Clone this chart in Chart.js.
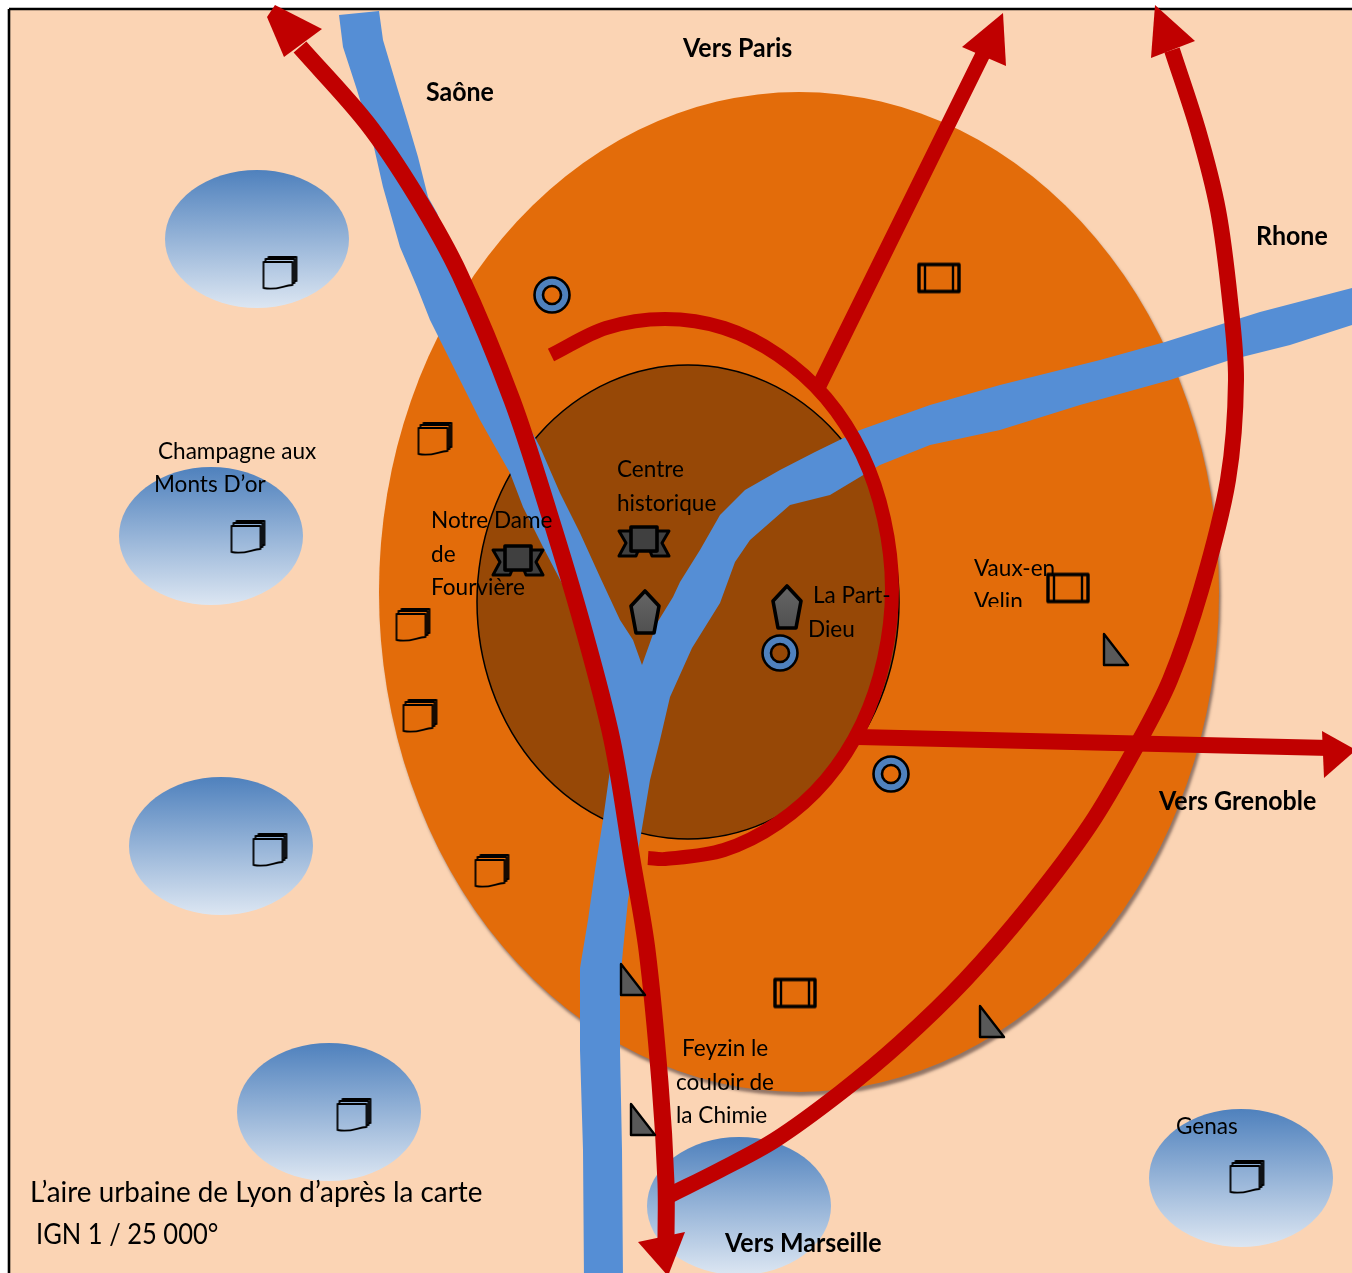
<!DOCTYPE html>
<html>
<head>
<meta charset="utf-8">
<title>Aire urbaine de Lyon</title>
<script src="https://cdn.jsdelivr.net/npm/chart.js@4"></script>
<style>
html, body { margin: 0; padding: 0; background: #fff; overflow: hidden; }
canvas { display: block; }
</style>
</head>
<body>
<canvas id="map" width="1352" height="1273"></canvas>
<script>
var frame = [[9,9],[1370,9],[1370,1290],[9,1290],[9,9]];

var agglomeration = [[799,592]];
var centre = [[688,602]];
var communes = [[257,239],[211,536],[221,846],[329,1112],[739,1206],[1241,1178]];

var riverOutline = [[339,15],[379,11],[383,40],[397,87],[408,123],[418,157],[428,197],[437,213],[452,255],[470,300],
  [490,350],[515,400],[540,447],[560,493],[580,533],[600,577],[620,620],[633,640],[642,665],[657,623],[673,597],
  [680,582],[700,550],[720,515],[745,490],[780,470],[815,452],[860,430],[930,405],[1000,385],[1100,360],[1165,342],
  [1260,312],[1352,288],[1352,325],[1290,345],[1230,360],[1170,380],[1080,405],[1000,430],[930,445],[880,465],
  [830,495],[790,505],[750,540],[735,562],[720,603],[692,648],[670,697],[660,740],[650,780],[640,840],[628,900],
  [623,950],[620,983],[620,1050],[622,1150],[623,1280],[584,1280],[583,1150],[580,1050],[580,968],[588,920],
  [595,870],[603,820],[610,770],[603,720],[590,650],[573,617],[567,593],[543,547],[523,507],[510,473],[493,443],
  [480,420],[470,400],[445,350],[430,320],[417,287],[400,247],[383,187],[373,143],[357,90],[343,47],[339,15]];

var roadWest = [[300,47],[367,123],[417,197],[460,275],[512,400],[549,513],[583,627],[612,740],[632,860],
  [647,950],[660,1083],[666,1183],[666,1240]];
var roadNorth = [[818,388],[985,50]];
var roadEast = [[1172,50],[1198,130],[1218,210],[1230,300],[1236,380],[1228,480],[1201,590],[1170,680],[1137,745],
  [1090,825],[1030,905],[965,980],[900,1043],[840,1093],[775,1140],[720,1170],[670,1195]];
var ringRoad = [[551,355],[606,328],[665,319],[724,328],[778,355],[826,398],[862,454],[884,519],[892,589],[884,659],
  [862,724],[826,780],[778,823],[724,850],[665,859],[648,858]];
var roadGrenoble = [[858,737],[1330,748]];

var headWest = [[267,17],[275,5],[322,29],[284,57],[267,17]];
var headNorth = [[1003,13],[962,47],[1006,66],[1003,13]];
var headEast = [[1155,5],[1195,41],[1151,58],[1155,5]];
var headSouth = [[638,1242],[685,1232],[668,1276],[638,1242]];
var headGrenoble = [[1322,731],[1356,750],[1324,778],[1322,731]];

var docMarkers = [[280,273],[248,537],[270,850],[354,1115],[1247,1177],[435,439],[413,625],[420,716],[492,871]];
var boxMarkers = [[939,278],[1068,588],[795,993]];
var ringMarkers = [[552,295],[780,653],[891,774]];
var pentagonMarkers = [[645,612],[787,607]];
var ribbonMarkers = [[518,561],[644,542]];
var triangleMarkers = [[1116,650],[633,980],[643,1120],[992,1022]];

var boldLabels = [['Vers Paris',683,57],['Saône',426,101],['Rhone',1256,245],['Vers Grenoble',1159,810],['Vers Marseille',725,1252]];
var plainLabels = [['Champagne aux',158,459],['Monts D’or',154,492],['Centre',617,477],['historique',617,511],
  ['Notre Dame',431,528],['de',431,562],['Fourvière',431,595],['La Part-',813,603],['Dieu',808,637],['Vaux-en',974,576],
  ['Feyzin le',682,1056],['couloir de',676,1090],['la Chimie',676,1123],['Genas',1176,1134]];
var clippedLabels = [['Velin',974,609,607]];
var captionLabels = [['L’aire urbaine de Lyon d’après la carte',30,1202]];
var captionScale = [['IGN 1 / 25 000°',36,1244]];

var FONT = 'Lato, Carlito, sans-serif';
var RED = '#C00000';

function toPoints(list) {
    return list.map(function(p) { return {x: p[0], y: p[1]}; });
}

// small offscreen canvas used as a pointStyle, so the scales still place it
function stamp(w, h, paint) {
    var c = document.createElement('canvas');
    c.width = w;
    c.height = h;
    paint(c.getContext('2d'), w, h);
    return c;
}

function ellipseStamp(rx, ry, paint) {
    return stamp(rx * 2 + 20, ry * 2 + 20, function(g, w, h) {
        g.beginPath();
        g.ellipse(w / 2, h / 2, rx, ry, 0, 0, Math.PI * 2);
        paint(g, w, h);
    });
}

var orangeStamp = ellipseStamp(420, 500, function(g) {
    g.shadowColor = 'rgba(60,40,40,0.55)';
    g.shadowOffsetX = 2;
    g.shadowOffsetY = 4;
    g.shadowBlur = 3;
    g.fillStyle = '#E36C0A';
    g.fill();
});

var brownStamp = ellipseStamp(211, 237, function(g) {
    g.fillStyle = '#974806';
    g.fill();
    g.lineWidth = 1.5;
    g.strokeStyle = '#000';
    g.stroke();
});

var communeStamp = ellipseStamp(92, 69, function(g, w, h) {
    var grad = g.createLinearGradient(0, h / 2 - 69, 0, h / 2 + 69);
    grad.addColorStop(0, '#4F81BD');
    grad.addColorStop(1, '#DCE6F2');
    g.fillStyle = grad;
    g.fill();
});

var docStamp = stamp(37, 36, function(g) {
    g.strokeStyle = '#000';
    g.lineWidth = 1.8;
    g.lineJoin = 'round';
    g.beginPath();
    g.moveTo(7, 4); g.lineTo(7, 2); g.lineTo(35, 2); g.lineTo(35, 26); g.lineTo(33, 26);
    g.moveTo(4, 7); g.lineTo(4, 4); g.lineTo(33, 4); g.lineTo(33, 28); g.lineTo(31, 28);
    g.stroke();
    g.beginPath();
    g.moveTo(2, 7); g.lineTo(31, 7); g.lineTo(31, 30);
    g.bezierCurveTo(22, 30, 16, 36, 2, 33);
    g.closePath();
    g.stroke();
});

var boxStamp = stamp(46, 33, function(g) {
    g.strokeStyle = '#000';
    g.lineWidth = 3.4;
    g.lineJoin = 'round';
    g.strokeRect(3, 3, 40, 27);
    g.lineWidth = 2.4;
    g.beginPath();
    g.moveTo(9, 3); g.lineTo(9, 30);
    g.moveTo(37, 3); g.lineTo(37, 30);
    g.stroke();
});

var ringStamp = stamp(40, 40, function(g) {
    g.beginPath();
    g.arc(20, 20, 17.5, 0, Math.PI * 2);
    g.moveTo(29, 20);
    g.arc(20, 20, 9, 0, Math.PI * 2);
    g.fillStyle = '#4F81BD';
    g.fill('evenodd');
    g.strokeStyle = '#000';
    g.lineWidth = 2.6;
    g.stroke();
});

var pentagonStamp = stamp(34, 48, function(g) {
    var grad = g.createLinearGradient(0, 2, 0, 46);
    grad.addColorStop(0, '#666');
    grad.addColorStop(1, '#505050');
    g.beginPath();
    g.moveTo(17, 3); g.lineTo(31, 18); g.lineTo(26, 45); g.lineTo(8, 45); g.lineTo(3, 18);
    g.closePath();
    g.fillStyle = grad;
    g.fill();
    g.lineWidth = 3.6;
    g.lineJoin = 'round';
    g.strokeStyle = '#000';
    g.stroke();
});

var ribbonStamp = stamp(56, 36, function(g) {
    g.fillStyle = '#404040';
    g.strokeStyle = '#000';
    g.lineWidth = 3;
    g.lineJoin = 'round';
    g.beginPath();
    g.moveTo(3, 7); g.lineTo(16, 7); g.lineTo(16, 27); g.lineTo(22, 27); g.lineTo(20, 32); g.lineTo(3, 32); g.lineTo(10, 19);
    g.closePath();
    g.moveTo(53, 7); g.lineTo(40, 7); g.lineTo(40, 27); g.lineTo(34, 27); g.lineTo(36, 32); g.lineTo(53, 32); g.lineTo(46, 19);
    g.closePath();
    g.fill();
    g.stroke();
    g.lineWidth = 3.6;
    g.beginPath();
    g.rect(15, 3, 26, 24);
    g.fill();
    g.stroke();
});

var triangleStamp = stamp(28, 36, function(g) {
    g.beginPath();
    g.moveTo(2, 2); g.lineTo(26, 33); g.lineTo(2, 33);
    g.closePath();
    g.fillStyle = '#595959';
    g.fill();
    g.lineWidth = 2.4;
    g.lineJoin = 'round';
    g.strokeStyle = '#000';
    g.stroke();
});

function areaSet(list, fillColor, borderColor, borderWidth) {
    return {
        data: toPoints(list), showLine: true, fill: 'shape', tension: 0,
        backgroundColor: fillColor, borderColor: borderColor || fillColor,
        borderWidth: borderWidth || 0, pointRadius: 0, clip: false
    };
}

function roadSet(list, width) {
    return {
        data: toPoints(list), showLine: true, fill: false, tension: 0.33,
        borderColor: RED, borderWidth: width, pointRadius: 0, clip: false
    };
}

function stampSet(list, style) {
    return {
        data: toPoints(list), showLine: false, pointStyle: style, pointRadius: 5,
        pointBorderWidth: 0, clip: false
    };
}

// painted back to front, reversed below because chart.js puts dataset 0 on top
var dataSets = [
    areaSet(frame, '#FBD4B4', '#000', 2.6),
    stampSet(agglomeration, orangeStamp),
    stampSet(centre, brownStamp),
    stampSet(communes, communeStamp),
    areaSet(riverOutline, '#558ED5'),
    roadSet(roadWest, 17),
    roadSet(roadNorth, 15),
    roadSet(roadEast, 16),
    roadSet(ringRoad, 14),
    roadSet(roadGrenoble, 16),
    areaSet(headWest, RED),
    areaSet(headNorth, RED),
    areaSet(headEast, RED),
    areaSet(headSouth, RED),
    areaSet(headGrenoble, RED),
    stampSet(docMarkers, docStamp),
    stampSet(boxMarkers, boxStamp),
    stampSet(ringMarkers, ringStamp),
    stampSet(pentagonMarkers, pentagonStamp),
    stampSet(ribbonMarkers, ribbonStamp),
    stampSet(triangleMarkers, triangleStamp)
].reverse();

function drawLabels(chart, list, font, squeeze) {
    var ctx = chart.ctx;
    var xs = chart.scales.x, ys = chart.scales.y;
    list.forEach(function(item) {
        ctx.save();
        if (item[3]) {
            ctx.beginPath();
            ctx.rect(0, 0, chart.width, ys.getPixelForValue(item[3]));
            ctx.clip();
        }
        ctx.translate(xs.getPixelForValue(item[1]), ys.getPixelForValue(item[2]));
        ctx.scale(squeeze, 1);
        ctx.font = font;
        ctx.fillStyle = '#000';
        ctx.textBaseline = 'alphabetic';
        ctx.fillText(item[0], 0, 0);
        ctx.restore();
    });
}

var labelPlugin = {
    id: 'mapLabels',
    afterDatasetsDraw: function(chart) {
        drawLabels(chart, boldLabels, 'bold 26px ' + FONT, 0.96);
        drawLabels(chart, plainLabels, '24px ' + FONT, 0.94);
        drawLabels(chart, clippedLabels, '24px ' + FONT, 0.94);
        drawLabels(chart, captionLabels, '29px ' + FONT, 0.96);
        drawLabels(chart, captionScale, '29px ' + FONT, 0.88);
    }
};

var myChart = new Chart(document.getElementById('map').getContext('2d'), {
    type: 'scatter',
    data: { datasets: dataSets },
    plugins: [labelPlugin],
    options: {
        responsive: false,
        animation: false,
        devicePixelRatio: 1,
        layout: { padding: 0, autoPadding: false },
        scales: {
            x: { type: 'linear', min: 0, max: 1352, display: false },
            y: { type: 'linear', min: 0, max: 1273, reverse: true, display: false }
        },
        plugins: { legend: { display: false }, tooltip: { enabled: false } }
    }
});
</script>
</body>
</html>
